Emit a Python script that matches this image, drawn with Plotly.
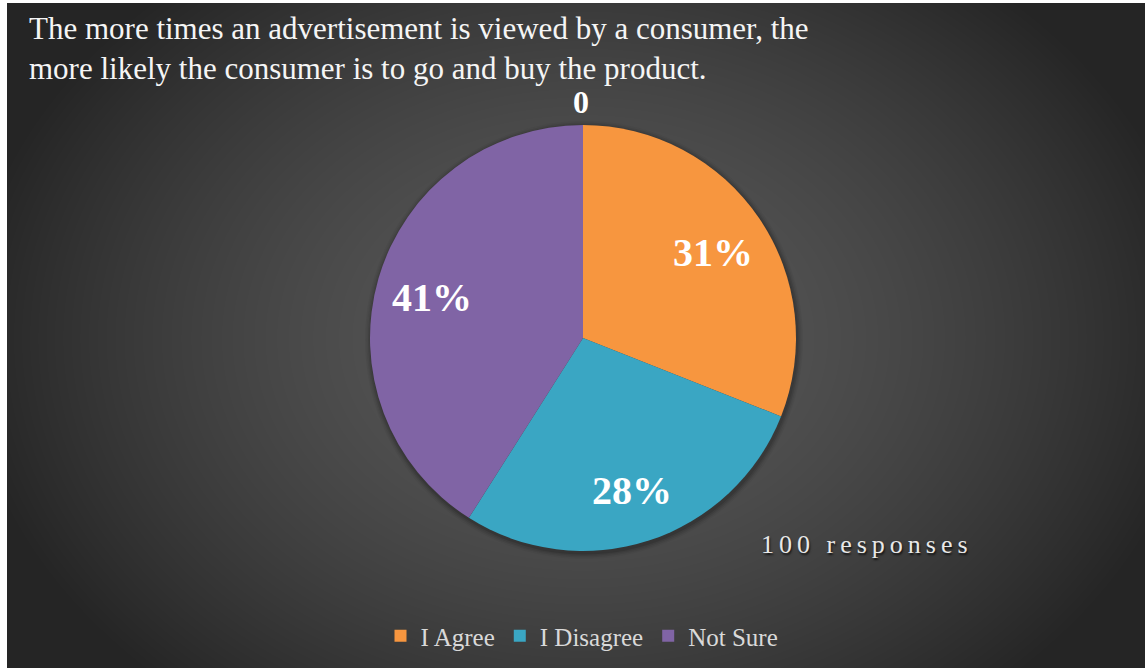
import base64
import math
import struct
import zlib

import numpy as np
import plotly.graph_objects as go

# ---- data ----
categories = ["I Agree", "I Disagree", "Not Sure"]
shares = [31, 28, 41]
slice_colors = ["#F7963F", "#3AA6C3", "#8064A5"]
title_lines = [
    "The more times an advertisement is viewed by a consumer, the",
    "more likely the consumer is to go and buy the product.",
]
top_label = "0"
responses_note = "100 responses"

W, H = 1145, 670
# dark panel inside a thin white frame
PANEL_X0, PANEL_X1 = 7, 1145
PANEL_Y0, PANEL_Y1 = 3, 668
PIE_CX, PIE_CY, PIE_R = 583, 338, 213
LABEL_RADIUS = 0.74  # fraction of the pie radius where percent labels sit


def px_x(x):
    return x / W


def px_y(y):
    return 1 - y / H


def radial_gradient_png(w, h, cx, cy, rx, ry, c_in, c_out, power):
    """Grayscale PNG (data URI) with an elliptical radial gradient."""
    yy, xx = np.mgrid[0:h, 0:w].astype(float)
    t = np.sqrt(((xx - cx) / rx) ** 2 + ((yy - cy) / ry) ** 2)
    t = np.clip(t, 0, 1) ** power
    img = (c_in + (c_out - c_in) * t).round().astype(np.uint8)
    raw = b"".join(b"\x00" + row.tobytes() for row in img)

    def chunk(tag, data):
        c = struct.pack(">I", len(data)) + tag + data
        return c + struct.pack(">I", zlib.crc32(tag + data) & 0xFFFFFFFF)

    png = b"\x89PNG\r\n\x1a\n"
    png += chunk(b"IHDR", struct.pack(">IIBBBBB", w, h, 8, 0, 0, 0, 0))
    png += chunk(b"IDAT", zlib.compress(raw, 9))
    png += chunk(b"IEND", b"")
    return "data:image/png;base64," + base64.b64encode(png).decode()


pw, ph = PANEL_X1 - PANEL_X0, PANEL_Y1 - PANEL_Y0
bg_src = radial_gradient_png(
    pw, ph, PIE_CX - PANEL_X0, PIE_CY - PANEL_Y0, 620, 470, 0x58, 0x25, 1.6
)

fig = go.Figure()

fig.add_trace(
    go.Pie(
        labels=categories,
        values=shares,
        sort=False,
        direction="clockwise",
        rotation=0,
        marker=dict(colors=slice_colors, line=dict(width=0)),
        textinfo="none",
        hoverinfo="label+percent",
        domain=dict(
            x=[px_x(PIE_CX - PIE_R), px_x(PIE_CX + PIE_R)],
            y=[px_y(PIE_CY + PIE_R), px_y(PIE_CY - PIE_R)],
        ),
    )
)

# soft drop shadow around the pie
shapes = []
for i, op in enumerate([0.10, 0.08, 0.06, 0.04]):
    r = PIE_R + 1.5 * (i + 1)
    shapes.append(
        dict(
            type="circle",
            xref="paper",
            yref="paper",
            x0=px_x(PIE_CX + 1 - r),
            x1=px_x(PIE_CX + 1 + r),
            y0=px_y(PIE_CY + 2 + r),
            y1=px_y(PIE_CY + 2 - r),
            fillcolor=f"rgba(0,0,0,{op})",
            line=dict(width=0),
            layer="below",
        )
    )

annotations = [
    dict(
        text="<br>".join(title_lines),
        x=px_x(27),
        y=px_y(9),
        xref="paper",
        yref="paper",
        xanchor="left",
        yanchor="top",
        align="left",
        showarrow=False,
        font=dict(family="Liberation Serif", size=31, color="#F5F5F5"),
    ),
    dict(
        text=top_label,
        x=px_x(581),
        y=px_y(102),
        xref="paper",
        yref="paper",
        xanchor="center",
        yanchor="middle",
        showarrow=False,
        font=dict(family="Liberation Serif", size=32, color="white", weight="bold"),
    ),
    dict(
        text=f'<span style="letter-spacing:5px">{responses_note}</span>',
        x=px_x(867),
        y=px_y(544),
        xref="paper",
        yref="paper",
        xanchor="center",
        yanchor="middle",
        showarrow=False,
        font=dict(
            family="Liberation Serif",
            size=26,
            color="#E8E8E8",
            shadow="1px 2px 2px rgba(0,0,0,0.7)",
        ),
    ),
]

# percent labels on each slice's bisector (slices run clockwise from 12 o'clock)
total = sum(shares)
cum = 0
for v in shares:
    mid = (cum + v / 2) / total * 2 * math.pi
    cum += v
    lx = PIE_CX + LABEL_RADIUS * PIE_R * math.sin(mid)
    ly = PIE_CY + 3 - LABEL_RADIUS * PIE_R * math.cos(mid)
    annotations.append(
        dict(
            text=f"{round(100 * v / total)}%",
            x=px_x(lx),
            y=px_y(ly),
            xref="paper",
            yref="paper",
            xanchor="center",
            yanchor="middle",
            showarrow=False,
            font=dict(family="Liberation Serif", size=40, color="white", weight="bold"),
        )
    )

fig.update_layout(
    width=W,
    height=H,
    margin=dict(l=0, r=0, t=0, b=0),
    paper_bgcolor="white",
    plot_bgcolor="rgba(0,0,0,0)",
    images=[
        dict(
            source=bg_src,
            xref="paper",
            yref="paper",
            x=px_x(PANEL_X0),
            y=px_y(PANEL_Y0),
            sizex=pw / W,
            sizey=ph / H,
            xanchor="left",
            yanchor="top",
            sizing="stretch",
            layer="below",
        )
    ],
    shapes=shapes,
    annotations=annotations,
    showlegend=True,
    legend=dict(
        orientation="h",
        x=px_x(582),
        y=px_y(636),
        xanchor="center",
        yanchor="middle",
        bgcolor="rgba(0,0,0,0)",
        font=dict(family="Liberation Serif", size=25, color="#D9D9D9"),
        itemclick=False,
    ),
)

fig.write_html("out.html")
